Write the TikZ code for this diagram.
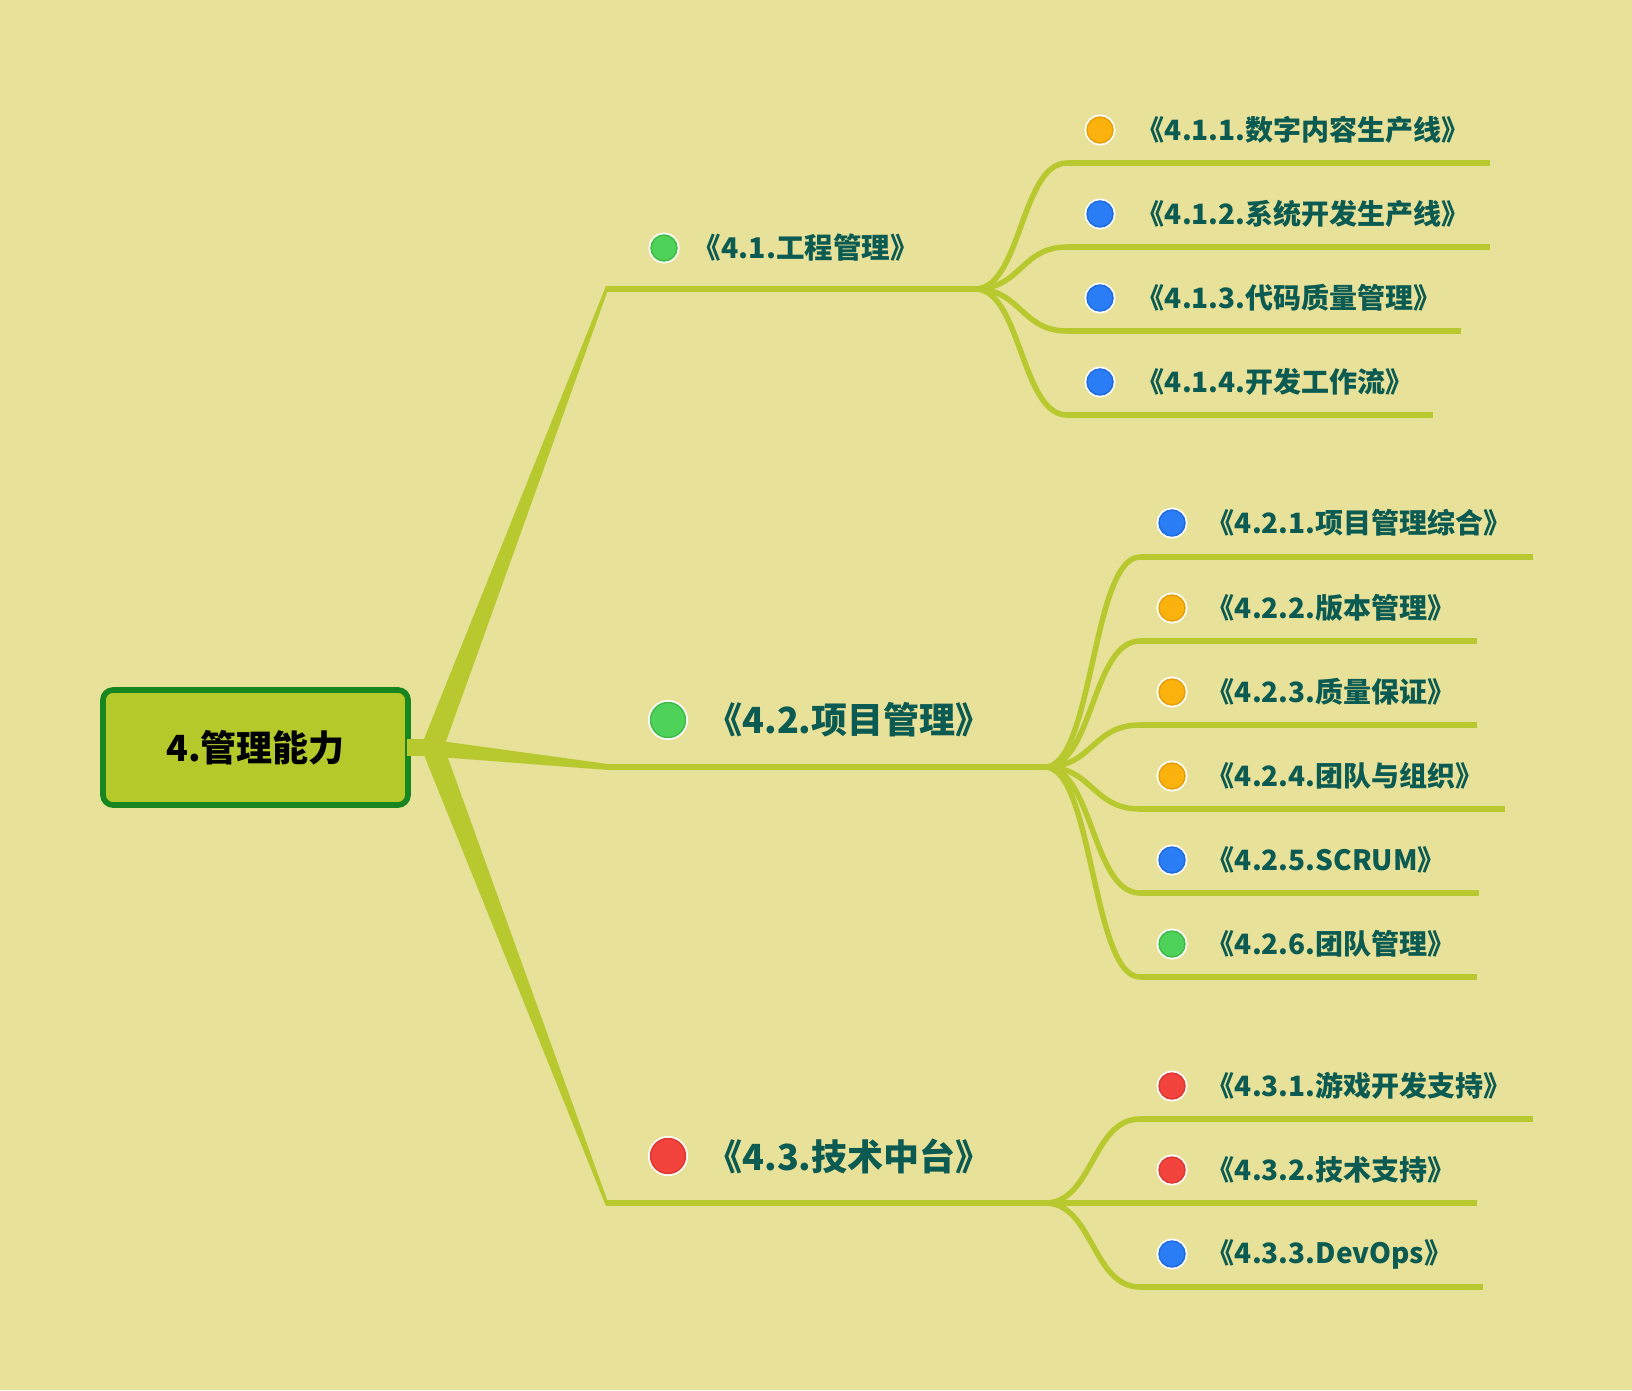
\documentclass[tikz,border=0pt]{standalone}
\usepackage{fontspec}
\setmainfont{Noto Sans CJK SC}
\usepackage{xcolor}
\usepackage{tikz}
\usetikzlibrary{shapes,shapes.geometric}
\usetikzlibrary{calc,positioning}
\definecolor{mmbg}{HTML}{E8E199}
\definecolor{mmline}{HTML}{B7C92E}
\definecolor{mmroot}{HTML}{B5C92A}
\definecolor{mmrootb}{HTML}{18861E}
\definecolor{mmtext}{HTML}{0B5B52}
\definecolor{mmorange}{HTML}{FCB20D}
\definecolor{mmorangeb}{HTML}{E8A00A}
\definecolor{mmblue}{HTML}{2A7DF5}
\definecolor{mmblueb}{HTML}{1F6DDF}
\definecolor{mmgreen}{HTML}{4FD259}
\definecolor{mmgreenb}{HTML}{41BC4B}
\definecolor{mmred}{HTML}{F2443D}
\definecolor{mmredb}{HTML}{DD3A33}
\tikzset{
  mm_root/.style = {rectangle, rounded corners=10pt, draw=mmrootb, fill=mmroot, line width=5.7pt, minimum width=305pt, minimum height=115pt, inner sep=0pt, text=black, font=\fontsize{36}{40}\selectfont\bfseries},
  mm_dot/.style = {circle, inner sep=0pt, minimum size=26pt, line width=1.5pt, fill=mm#1, draw=mm#1b, preaction={draw=white, line width=5pt}},
  mm_bigdot/.style = {mm_dot=#1, minimum size=35pt},
  mm_txt/.style = {inner sep=0pt, text=mmtext, font=\fontsize{28}{31}\selectfont\bfseries},
  mm_midtxt/.style = {mm_txt, font=\fontsize{28.5}{31}\selectfont\bfseries},
  mm_bigtxt/.style = {mm_txt, font=\fontsize{36}{39}\selectfont\bfseries},
  mm_line/.style = {draw=mmline, line width=6pt},
  mm_curve/.style = {draw=mmline, line width=5.5pt},
  mm_branch/.style = {fill=mmline}
}
\begin{document}
\begin{tikzpicture}[x=1pt,y=-1pt]
	\fill[mmbg] (0,0) rectangle (1632,1390);
	\node[mm_root] (root) at (255.5,747.5) {4.管理能力};
	\coordinate (j0) at (426,747);
	\coordinate (b41) at (607,289);
	\coordinate (b42) at (607,767);
	\coordinate (b43) at (607,1203);
	\coordinate (j1) at (975,289);
	\coordinate (j2) at (1045,767);
	\coordinate (j3) at (1045,1203);
	\fill[mm_branch] ($(root.east)+(-4,-9)$) rectangle ($(j0)+(2,9)$);
	\fill[mm_branch] ($(j0)+(-2,-8)$) -- ($(b41)+(-1,-3)$) -- ($(b41)+(2,-2)$) -- ($(j0)+(18,0)$) -- cycle;
	\fill[mm_branch] ($(j0)+(0,-8)$) -- ($(b42)+(1,-3)$) -- ($(b42)+(1,3)$) -- ($(j0)+(0,9)$) -- cycle;
	\fill[mm_branch] ($(j0)+(-2,8)$) -- ($(b43)+(-1,3)$) -- ($(b43)+(2,2)$) -- ($(j0)+(18,0)$) -- cycle;
	\draw[mm_line] (b41) -- (j1);
	\draw[mm_line] (b42) -- (j2);
	\draw[mm_line] (b43) -- (j3);

	\node[mm_dot=green] (d41) at (664,248) {};
	\node[mm_midtxt, right=15pt of d41] (t41) {《4.1.工程管理》};
	\node[mm_bigdot=green] (d42) at (668,720) {};
	\node[mm_bigtxt, right=20pt of d42] (t42) {《4.2.项目管理》};
	\node[mm_bigdot=red] (d43) at (668,1156) {};
	\node[mm_bigtxt, right=20pt of d43] (t43) {《4.3.技术中台》};

	\coordinate (s411) at (1067,163); \coordinate (e411) at (1490,163);
	\coordinate (s412) at (1067,247); \coordinate (e412) at (1490,247);
	\coordinate (s413) at (1067,331); \coordinate (e413) at (1461,331);
	\coordinate (s414) at (1067,415); \coordinate (e414) at (1433,415);
	\draw[mm_curve] (j1) .. controls +(46,0) and +(-46,0) .. (s411);
	\draw[mm_curve] (j1) .. controls +(46,0) and +(-46,0) .. (s412);
	\draw[mm_curve] (j1) .. controls +(46,0) and +(-46,0) .. (s413);
	\draw[mm_curve] (j1) .. controls +(46,0) and +(-46,0) .. (s414);
	\draw[mm_line] (s411) -- (e411);
	\draw[mm_line] (s412) -- (e412);
	\draw[mm_line] (s413) -- (e413);
	\draw[mm_line] (s414) -- (e414);
	\node[mm_dot=orange] (d411) at (1100,130) {};
	\node[mm_txt, right=23pt of d411] (t411) {《4.1.1.数字内容生产线》};
	\node[mm_dot=blue] (d412) at (1100,214) {};
	\node[mm_txt, right=23pt of d412] (t412) {《4.1.2.系统开发生产线》};
	\node[mm_dot=blue] (d413) at (1100,298) {};
	\node[mm_txt, right=23pt of d413] (t413) {《4.1.3.代码质量管理》};
	\node[mm_dot=blue] (d414) at (1100,382) {};
	\node[mm_txt, right=23pt of d414] (t414) {《4.1.4.开发工作流》};

	\coordinate (s421) at (1140,557); \coordinate (e421) at (1533,557);
	\coordinate (s422) at (1140,641); \coordinate (e422) at (1477,641);
	\coordinate (s423) at (1140,725); \coordinate (e423) at (1477,725);
	\coordinate (s424) at (1140,809); \coordinate (e424) at (1505,809);
	\coordinate (s425) at (1140,893); \coordinate (e425) at (1479,893);
	\coordinate (s426) at (1140,977); \coordinate (e426) at (1477,977);
	\draw[mm_curve] (j2) .. controls +(48,0) and +(-48,0) .. (s421);
	\draw[mm_curve] (j2) .. controls +(48,0) and +(-48,0) .. (s422);
	\draw[mm_curve] (j2) .. controls +(48,0) and +(-48,0) .. (s423);
	\draw[mm_curve] (j2) .. controls +(48,0) and +(-48,0) .. (s424);
	\draw[mm_curve] (j2) .. controls +(48,0) and +(-48,0) .. (s425);
	\draw[mm_curve] (j2) .. controls +(48,0) and +(-48,0) .. (s426);
	\draw[mm_line] (s421) -- (e421);
	\draw[mm_line] (s422) -- (e422);
	\draw[mm_line] (s423) -- (e423);
	\draw[mm_line] (s424) -- (e424);
	\draw[mm_line] (s425) -- (e425);
	\draw[mm_line] (s426) -- (e426);
	\node[mm_dot=blue] (d421) at (1172,523) {};
	\node[mm_txt, right=21pt of d421] (t421) {《4.2.1.项目管理综合》};
	\node[mm_dot=orange] (d422) at (1172,608) {};
	\node[mm_txt, right=21pt of d422] (t422) {《4.2.2.版本管理》};
	\node[mm_dot=orange] (d423) at (1172,692) {};
	\node[mm_txt, right=21pt of d423] (t423) {《4.2.3.质量保证》};
	\node[mm_dot=orange] (d424) at (1172,776) {};
	\node[mm_txt, right=21pt of d424] (t424) {《4.2.4.团队与组织》};
	\node[mm_dot=blue] (d425) at (1172,860) {};
	\node[mm_txt, right=21pt of d425] (t425) {《4.2.5.SCRUM》};
	\node[mm_dot=green] (d426) at (1172,944) {};
	\node[mm_txt, right=21pt of d426] (t426) {《4.2.6.团队管理》};

	\coordinate (s431) at (1140,1119); \coordinate (e431) at (1533,1119);
	\coordinate (e432) at (1477,1203);
	\coordinate (s433) at (1140,1287); \coordinate (e433) at (1483,1287);
	\draw[mm_curve] (j3) .. controls +(48,0) and +(-48,0) .. (s431);
	\draw[mm_curve] (j3) .. controls +(48,0) and +(-48,0) .. (s433);
	\draw[mm_line] (s431) -- (e431);
	\draw[mm_line] (j3) -- (e432);
	\draw[mm_line] (s433) -- (e433);
	\node[mm_dot=red] (d431) at (1172,1086) {};
	\node[mm_txt, right=21pt of d431] (t431) {《4.3.1.游戏开发支持》};
	\node[mm_dot=red] (d432) at (1172,1170) {};
	\node[mm_txt, right=21pt of d432] (t432) {《4.3.2.技术支持》};
	\node[mm_dot=blue] (d433) at (1172,1254) {};
	\node[mm_txt, right=21pt of d433] (t433) {《4.3.3.DevOps》};
\end{tikzpicture}
\end{document}
